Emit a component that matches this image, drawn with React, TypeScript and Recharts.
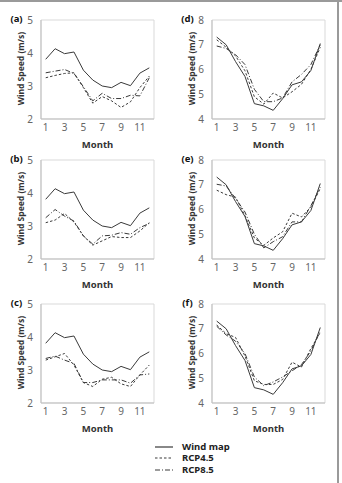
import React from "react";
import { LineChart, Line, XAxis, YAxis, ReferenceArea, Legend, Label } from "recharts";

const months = [1, 2, 3, 4, 5, 6, 7, 8, 9, 10, 11, 12];
const xTicks = [1, 3, 5, 7, 9, 11];
const minorTicks = [0.5, 1.5, 2.5, 3.5, 4.5, 5.5, 6.5, 7.5, 8.5, 9.5, 10.5, 11.5, 12.5];
const leftTicks = [2, 3, 4, 5];
const rightTicks = [4, 5, 6, 7, 8];

const windMapLeft = [3.81, 4.13, 3.98, 4.03, 3.48, 3.18, 3.0, 2.95, 3.11, 3.01, 3.39, 3.55];
const windMapRight = [7.31, 7.0, 6.32, 5.72, 4.62, 4.53, 4.35, 4.82, 5.38, 5.5, 5.96, 7.05];

const rcp45A = [3.25, 3.32, 3.38, 3.4, 2.95, 2.48, 2.68, 2.55, 2.35, 2.52, 2.95, 3.3];
const rcp85A = [3.4, 3.45, 3.5, 3.38, 2.98, 2.55, 2.78, 2.62, 2.62, 2.72, 2.7, 3.25];
const rcp45B = [3.1, 3.18, 3.38, 3.12, 2.7, 2.42, 2.55, 2.68, 2.65, 2.65, 2.85, 3.1];
const rcp85B = [3.25, 3.5, 3.3, 3.15, 2.7, 2.45, 2.7, 2.72, 2.8, 2.75, 2.95, 3.08];
const rcp45C = [3.3, 3.4, 3.5, 3.15, 2.62, 2.5, 2.72, 2.78, 2.58, 2.5, 2.85, 3.15];
const rcp85C = [3.35, 3.42, 3.3, 3.2, 2.62, 2.62, 2.7, 2.7, 2.7, 2.6, 2.85, 2.88];
const rcp45D = [7.2, 6.9, 6.55, 5.95, 4.9, 4.6, 5.05, 4.85, 5.1, 5.4, 6.0, 6.9];
const rcp85D = [6.95, 6.85, 6.6, 6.2, 5.2, 4.7, 4.7, 4.85, 5.5, 5.8, 6.2, 7.0];
const rcp45E = [6.78, 6.6, 6.5, 5.75, 4.85, 4.55, 4.85, 5.1, 5.85, 5.7, 6.1, 6.85];
const rcp85E = [7.02, 6.95, 6.45, 5.9, 5.0, 4.45, 4.7, 4.9, 5.5, 5.5, 6.15, 6.9];
const rcp45F = [7.15, 6.8, 6.65, 5.9, 4.9, 4.75, 4.75, 4.95, 5.65, 5.45, 6.2, 6.85];
const rcp85F = [7.1, 6.75, 6.5, 6.0, 5.05, 4.7, 4.85, 5.05, 5.3, 5.55, 6.1, 6.9];

const seriesNames = ["Wind map", "RCP4.5", "RCP8.5"];
const dashes = ["", "2.5 2", "5 2 1 2"];

const LINE = "#3a3a3a";
const AXIS = "#bfbfbf";
const PLOT_TOP = 20;
const PLOT_H = 99;
const PLOT_LEFT = 41;
const PLOT_W = 113;

function renderLegend() {
  return (
    <div>
      {seriesNames.map((n, i) => (
        <div key={n} style={{ display: "flex", alignItems: "center", height: 11.5, overflow: "visible" }}>
          <svg width={18} height={6} style={{ display: "block" }}>
            <line x1={0} y1={3} x2={18} y2={3} stroke={LINE} strokeWidth={1.2} strokeDasharray={dashes[i]} />
          </svg>
          <span style={{ display: "block", marginLeft: 9, fontSize: 9.5, lineHeight: "10px", fontWeight: 700, color: "#222" }}>
            {n}
          </span>
        </div>
      ))}
    </div>
  );
}

type PanelProps = {
  tag: string;
  wind: number[];
  r45: number[];
  r85: number[];
  domain: [number, number];
  yTicks: number[];
  left: number;
  top: number;
  height?: number;
  legend?: boolean;
};

function Panel({ tag, wind, r45, r85, domain, yTicks, left, top, height, legend }: PanelProps) {
  const data = months.map((m, i) => ({ month: m, wind: wind[i], r45: r45[i], r85: r85[i] }));
  const H = height ?? 150;
  return (
    <div style={{ position: "absolute", left, top }}>
      <LineChart
        width={171}
        height={H}
        data={data}
        margin={{ top: PLOT_TOP, right: 171 - PLOT_LEFT - PLOT_W, left: 0, bottom: H - PLOT_TOP - PLOT_H - 40 }}
      >
        <XAxis
          xAxisId="minor"
          dataKey="month"
          type="number"
          domain={[0.5, 12.5]}
          ticks={minorTicks}
          tick={false}
          axisLine={false}
          tickLine={{ stroke: AXIS }}
          tickSize={3}
          mirror
          height={0}
        />
        <XAxis
          dataKey="month"
          type="number"
          domain={[0.5, 12.5]}
          ticks={xTicks}
          interval={0}
          tickLine={false}
          tickSize={0}
          tickMargin={5}
          axisLine={{ stroke: AXIS }}
          height={40}
          tick={{ fontSize: 10, fill: "#666" }}
        >
          <Label
            content={() => (
              <text
                x={PLOT_LEFT + PLOT_W / 2}
                y={PLOT_TOP + PLOT_H + 25}
                textAnchor="middle"
                dominantBaseline="central"
                fontSize={9.5}
                fontWeight={700}
                fill="#333"
              >
                Month
              </text>
            )}
          />
        </XAxis>
        <YAxis
          yAxisId="minor"
          domain={domain}
          ticks={yTicks}
          tick={false}
          axisLine={false}
          tickLine={{ stroke: AXIS }}
          tickSize={3}
          mirror
          width={0}
        />
        <YAxis
          domain={domain}
          ticks={yTicks}
          width={PLOT_LEFT}
          tickLine={false}
          tickSize={0}
          tickMargin={8}
          axisLine={{ stroke: AXIS }}
          tick={{ fontSize: 10, fill: "#666" }}
        >
          <Label
            content={() => (
              <g>
                <text
                  transform={`translate(20.5, ${PLOT_TOP + PLOT_H / 2 - 1}) rotate(-90)`}
                  textAnchor="middle"
                  dominantBaseline="central"
                  fontSize={8.5}
                  fontWeight={700}
                  fill="#333"
                >
                  Wind Speed (m/s)
                </text>
                <text x={16.5} y={18.5} textAnchor="middle" dominantBaseline="central" fontSize={9.5} fontWeight={700} fill="#111">
                  {tag}
                </text>
              </g>
            )}
          />
        </YAxis>
        <ReferenceArea x1={0.5} x2={12.5} y1={domain[0]} y2={domain[1]} fill="none" stroke="#d9d9d9" />
        <Line type="linear" dataKey="wind" name={seriesNames[0]} stroke={LINE} strokeWidth={1} dot={false} isAnimationActive={false} />
        <Line type="linear" dataKey="r45" name={seriesNames[1]} stroke={LINE} strokeWidth={1} strokeDasharray={dashes[1]} dot={false} isAnimationActive={false} />
        <Line type="linear" dataKey="r85" name={seriesNames[2]} stroke={LINE} strokeWidth={1} strokeDasharray={dashes[2]} dot={false} isAnimationActive={false} />
        {legend && (
          <Legend
            layout="horizontal"
            verticalAlign="middle"
            align="center"
            wrapperStyle={{ left: -16, top: 157, width: 130 }}
            content={renderLegend}
          />
        )}
      </LineChart>
    </div>
  );
}

export default function App() {
  return (
    <div
      style={{
        position: "absolute",
        left: 0,
        top: 0,
        width: 342,
        height: 483,
        background: "#fff",
        fontFamily: "'Noto Sans', sans-serif",
        overflow: "hidden",
      }}
    >
      <div style={{ position: "absolute", left: 0, top: 0, width: 342, height: 1.5, background: "#9a9a9a" }} />
      <div style={{ position: "absolute", left: 337, top: 0, width: 2, height: 483, background: "#9a9a9a" }} />
      <Panel tag="(a)" wind={windMapLeft} r45={rcp45A} r85={rcp85A} domain={[2, 5]} yTicks={leftTicks} left={0} top={0} />
      <Panel tag="(b)" wind={windMapLeft} r45={rcp45B} r85={rcp85B} domain={[2, 5]} yTicks={leftTicks} left={0} top={140} />
      <Panel tag="(c)" wind={windMapLeft} r45={rcp45C} r85={rcp85C} domain={[2, 5]} yTicks={leftTicks} left={0} top={284} />
      <Panel tag="(d)" wind={windMapRight} r45={rcp45D} r85={rcp85D} domain={[4, 8]} yTicks={rightTicks} left={171} top={0} />
      <Panel tag="(e)" wind={windMapRight} r45={rcp45E} r85={rcp85E} domain={[4, 8]} yTicks={rightTicks} left={171} top={140} />
      <Panel
        tag="(f)"
        wind={windMapRight}
        r45={rcp45F}
        r85={rcp85F}
        domain={[4, 8]}
        yTicks={rightTicks}
        left={171}
        top={284}
        height={199}
        legend
      />
    </div>
  );
}
